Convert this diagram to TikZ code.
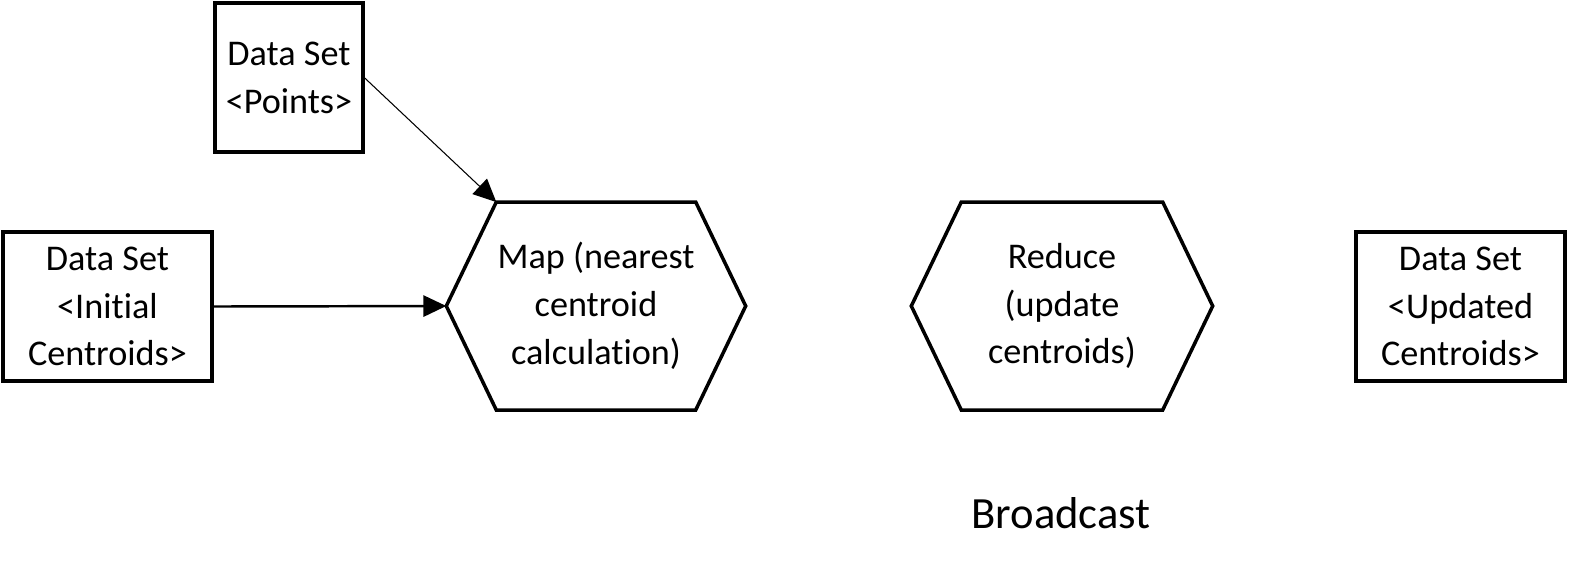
\documentclass[tikz,border=0pt]{standalone}
\usepackage{fontspec}
\setmainfont{Carlito}[Ligatures={NoCommon}]
\usetikzlibrary{arrows.meta,calc}
\begin{document}
\begin{tikzpicture}[
  datanode/.style = {draw = black, line width = 1pt, align = center, inner sep = 0pt,
    minimum width = 2.09cm, minimum height = 1.49cm,
    font = \fontsize{10.3}{13.6}\selectfont},
  hexnode/.style = {align = center, inner sep = 0pt,
    minimum width = 2.98cm, minimum height = 2.08cm,
    font = \fontsize{10.3}{13.6}\selectfont},
  hexline/.style = {draw = black, line width = 1pt, line join = miter},
  tip/.style = {-{Triangle[length = 6.5pt, width = 6pt]}}
]
\useasboundingbox (0,0) rectangle (15.73,-5.79);
\pgfmathsetmacro\hexdx{0.5};
\pgfmathsetmacro\hexdy{1.04};
% data sets
\node [datanode, minimum width = 1.48cm] (points) at (2.89,-0.775) {Data Set\\<Points>};
\node [datanode] (initial) at (1.075,-3.065) {Data Set\\<Initial\\Centroids>};
\node [datanode] (updated) at (14.605,-3.065) {Data Set\\<Updated\\Centroids>};
% map and reduce
\node [hexnode] (map) at (5.96,-3.06) {Map (nearest\\centroid\\calculation)};
\node [hexnode, minimum width = 3.00cm] (reduce) at (10.62,-3.06) {Reduce\\(update\\centroids)};
\foreach \h in {map,reduce}
  \draw [hexline] (\h.west) -- ++(\hexdx,\hexdy) coordinate (\h-tl) -- ($(\h.east)+(-\hexdx,\hexdy)$)
    -- (\h.east) -- ++(-\hexdx,-\hexdy) -- ($(\h.west)+(\hexdx,-\hexdy)$) -- cycle;
\node [font = \fontsize{12.7}{15}\selectfont] (broadcast) at (10.61,-5.13) {Broadcast};
% connectors
\draw [tip, line width = 0.3pt] (points.east |- 0,-0.78) -- (map-tl);
\draw [tip, line width = 0.7pt] (initial.east) -- (map.west);
\end{tikzpicture}
\end{document}
